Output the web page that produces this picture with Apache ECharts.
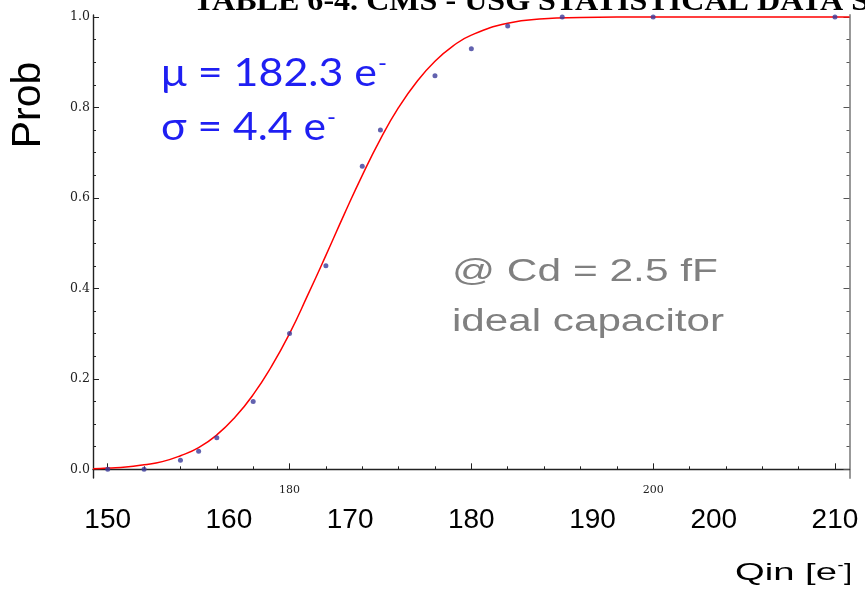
<!DOCTYPE html>
<html>
<head>
<meta charset="utf-8">
<script src="https://cdn.jsdelivr.net/npm/echarts@6/dist/echarts.min.js"></script>
<style>html,body{margin:0;padding:0;background:#fff;}#c{width:865px;height:594px;}</style>
</head>
<body>
<div id="c"></div>
<script>
// ---- data ----
const pointX = [170, 172, 174, 175, 176, 178, 180, 182, 184, 185, 188, 190, 192, 195, 200, 210];
const pointY = [0.0, 0.0, 0.02, 0.04, 0.07, 0.15, 0.30, 0.45, 0.67, 0.75, 0.87, 0.93, 0.98, 1.0, 1.0, 1.0];
const curveX = [169.19, 170, 171, 172, 173, 174, 175, 176, 177, 178, 179, 180, 181, 182, 183, 184, 185, 186, 187, 188, 189, 190, 192, 194, 196, 198, 200, 205, 210.8];
const curveY = [0.001, 0.003, 0.005, 0.01, 0.017, 0.03, 0.048, 0.076, 0.115, 0.165, 0.227, 0.30, 0.385, 0.473, 0.563, 0.65, 0.73, 0.80, 0.857, 0.902, 0.936, 0.96, 0.986, 0.996, 0.999, 1.0, 1.0, 1.0, 1.0];
const xMajorTicks = [170, 180, 190, 200, 210];
const xMinorTicks = [172, 174, 176, 178, 182, 184, 186, 188, 192, 194, 196, 198, 202, 204, 206, 208];
const xSmallLabels = [180, 200];
const xBigLabels = [150, 160, 170, 180, 190, 200, 210];
const yMajorTicks = [0, 0.2, 0.4, 0.6, 0.8, 1.0];
const yMinorTicks = [0.05, 0.1, 0.15, 0.25, 0.3, 0.35, 0.45, 0.5, 0.55, 0.65, 0.7, 0.75, 0.85, 0.9, 0.95];

const chart = echarts.init(document.getElementById('c'));
const ctx = document.createElement('canvas').getContext('2d');
function sx(text, font, target) { ctx.font = font; return target / ctx.measureText(text).width; }

const X0 = {min: 169.19, max: 210.8};
const XB = {min: 148.79, max: 211.2};
const Y = {min: -0.0192, max: 1.0044};

function txt(text, x, y, fam, size, color, target, extra) {
  const font = (extra && extra.weight ? extra.weight + ' ' : '') + size + 'px ' + fam;
  const el = {
    type: 'text', x: x, y: y,
    scaleX: target ? sx(text, font, target) : 1,
    style: {text: text, font: font, fill: color, align: 'left', verticalAlign: 'middle'},
    z: 10
  };
  if (extra && extra.rotation) { el.rotation = extra.rotation; el.style.align = 'center'; el.scaleX = 1; }
  return el;
}

const blue = '#1f1ff2', gray = '#808080';
chart.setOption({
  animation: false,
  backgroundColor: '#fff',
  grid: {left: 93, right: 15.5, top: 15, height: 463, containLabel: false},
  xAxis: [
    {type: 'value', min: X0.min, max: X0.max, position: 'bottom',
      axisLine: {show: true, lineStyle: {color: '#222', width: 1.4}},
      axisTick: {show: true, inside: true, length: 6, customValues: xMajorTicks, lineStyle: {color: '#222'}},
      axisLabel: {customValues: xSmallLabels, fontFamily: 'DejaVu Serif', fontSize: 11, color: '#222', margin: 7},
      splitLine: {show: false}},
    {type: 'value', min: X0.min, max: X0.max, position: 'bottom',
      axisLine: {show: false},
      axisTick: {show: true, inside: true, length: 3, customValues: xMinorTicks, lineStyle: {color: '#222'}},
      axisLabel: {show: false}, splitLine: {show: false}},
    {type: 'value', min: XB.min, max: XB.max, position: 'bottom',
      axisLine: {show: false}, axisTick: {show: false},
      axisLabel: {customValues: xBigLabels, fontFamily: 'Liberation Sans', fontSize: 28, color: '#000', margin: 28},
      splitLine: {show: false}}
  ],
  yAxis: [
    {type: 'value', min: Y.min, max: Y.max, position: 'left',
      axisLine: {show: true, lineStyle: {color: '#222', width: 1.4}},
      axisTick: {show: true, inside: true, length: 6, customValues: yMajorTicks, lineStyle: {color: '#222'}},
      axisLabel: {customValues: yMajorTicks, formatter: v => v.toFixed(1), fontFamily: 'DejaVu Serif', fontSize: 12.5, color: '#222', margin: 3},
      splitLine: {show: false}},
    {type: 'value', min: Y.min, max: Y.max, position: 'left',
      axisLine: {show: false},
      axisTick: {show: true, inside: true, length: 3, customValues: yMinorTicks, lineStyle: {color: '#222'}},
      axisLabel: {show: false}, splitLine: {show: false}},
    {type: 'value', min: Y.min, max: Y.max, position: 'right',
      axisLine: {show: true, lineStyle: {color: '#999', width: 2}},
      axisTick: {show: true, inside: true, length: 6, customValues: yMajorTicks, lineStyle: {color: '#555'}},
      axisLabel: {show: false}, splitLine: {show: false}},
    {type: 'value', min: Y.min, max: Y.max, position: 'right',
      axisLine: {show: false},
      axisTick: {show: true, inside: true, length: 3, customValues: yMinorTicks, lineStyle: {color: '#555'}},
      axisLabel: {show: false}, splitLine: {show: false}}
  ],
  series: [
    {type: 'line', xAxisIndex: 0, yAxisIndex: 0, data: curveX.map((x, i) => [x, curveY[i]]),
      showSymbol: false, smooth: 0.5, lineStyle: {color: '#ff0000', width: 1.5}, z: 2},
    {type: 'scatter', xAxisIndex: 0, yAxisIndex: 0, data: pointX.map((x, i) => [x, pointY[i]]),
      symbolSize: 5, itemStyle: {color: '#3b3b9b'}, z: 3}
  ],
  graphic: [
    txt('TABLE 6-4. CMS - USG STATISTICAL DATA S', 193, 2, 'Liberation Serif', 30, '#000', 676, {weight: 'bold'}),
    txt('Prob', 29, 105, 'Liberation Sans', 41, '#000', null, {rotation: Math.PI / 2}),
    txt('\u03bc = 182.3 e', 161, 74, 'Lato', 38, blue, 216),
    txt('-', 378, 63, 'Lato', 24, blue, 9),
    txt('\u03c3 = 4.4 e', 161, 128, 'Lato', 38, blue, 165),
    txt('-', 327, 117, 'Lato', 24, blue, 9),
    txt('@ Cd = 2.5 fF', 452, 272, 'Liberation Sans', 31, gray, 266),
    txt('ideal capacitor', 452, 322, 'Liberation Sans', 31, gray, 272),
    txt('Qin [e', 735, 573, 'Liberation Sans', 24, '#000', 102),
    txt('-', 837.5, 566, 'Liberation Sans', 16, '#000', 6),
    txt(']', 844, 573, 'Liberation Sans', 24, '#000', 8)
  ]
});
</script>
</body>
</html>
